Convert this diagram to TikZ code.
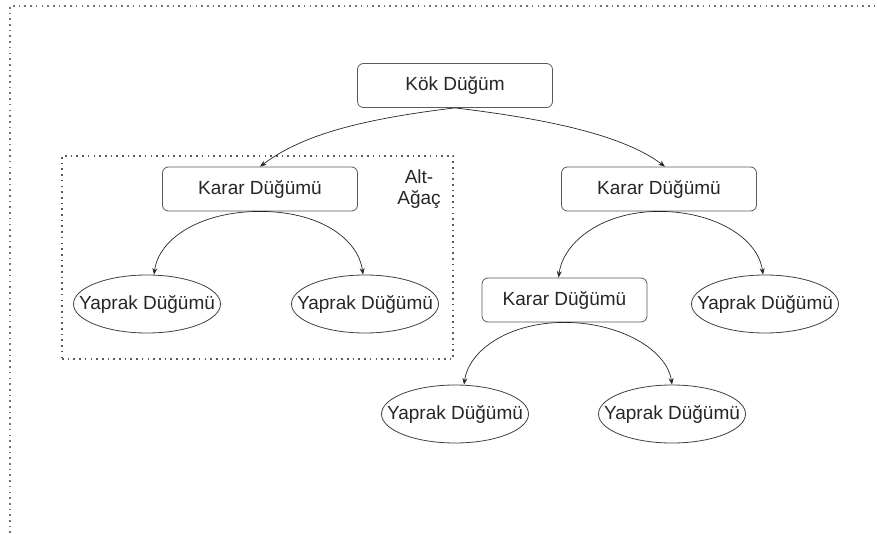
\documentclass[tikz,border=0pt]{standalone}
\usepackage{fontspec}
\setmainfont{Liberation Sans}
\usetikzlibrary{shapes.geometric,arrows.meta}

\tikzset{
  txt/.style={text=black!85, font=\fontsize{19}{21}\selectfont},
  decision/.style={txt, draw=black!65, line width=0.8pt, rounded corners=6pt,
    minimum width=195pt, minimum height=44pt, inner sep=0pt, fill=white},
  leafnode/.style={txt, ellipse, draw=black!75, line width=0.8pt,
    minimum width=147pt, minimum height=58pt, inner sep=0pt, fill=white},
  link/.style={draw=black!85, line width=0.7pt, -{Stealth[length=6.5pt,width=5pt]}},
  dotframe/.style={draw=black!55, line width=1.4pt, line cap=butt,
    dash pattern=on 1.6pt off 4.1pt}
}
% leaf label of zero width, so the ellipse keeps its own size
\newcommand\leaflabel[1]{\makebox[0pt]{#1}}

\begin{document}
\begin{tikzpicture}[x=1pt,y=1pt]
  \useasboundingbox (0,0) rectangle (877,533);

  % outer frame (only its top and left edges fall inside the page)
  \draw[dotframe] (10,0) -- (10,527) -- (877,527);

  % sub-tree frame
  \node[dotframe, draw=black!65, minimum width=391pt, minimum height=203pt,
        inner sep=0pt] (sub) at (257.5,275.5) {};
  \node[txt, align=center] (alt) at (419,344) {Alt-\\Ağaç};

  % nodes
  \node[decision] (root) at (455,447.5) {Kök Düğüm};
  \node[decision] (k1) at (260,344) {Karar Düğümü};
  \node[decision] (k2) at (659,344) {Karar Düğümü};
  \node[decision, minimum width=165pt] (k3) at (564.5,233) {Karar Düğümü};

  \node[leafnode] (y1) at (147,229) {\leaflabel{Yaprak Düğümü}};
  \node[leafnode] (y2) at (365,229) {\leaflabel{Yaprak Düğümü}};
  \node[leafnode] (y3) at (765,229) {\leaflabel{Yaprak Düğümü}};
  \node[leafnode] (y4) at (455,119) {\leaflabel{Yaprak Düğümü}};
  \node[leafnode] (y5) at (672,119) {\leaflabel{Yaprak Düğümü}};

  % curved connectors
  \draw[link] (root.south) .. controls +(-100,-12) and +(40,30) .. (k1.north);
  \draw[link] (root.south) .. controls +(100,-12) and +(-40,30) .. ([xshift=6pt]k2.north);

  \draw[link] (k1.south) .. controls +(-58,0) and +(5,37) .. ([xshift=7pt]y1.north);
  \draw[link] (k1.south) .. controls +(58,0) and +(-5,37) .. ([xshift=-2pt]y2.north);

  \draw[link] (k2.south) .. controls +(-55,0) and +(5,37) .. ([xshift=-6pt]k3.north);
  \draw[link] (k2.south) .. controls +(55,0) and +(-5,37) .. ([xshift=-2pt]y3.north);

  \draw[link] (k3.south) .. controls +(-55,0) and +(5,35) .. ([xshift=9pt]y4.north);
  \draw[link] (k3.south) .. controls +(55,0) and +(-5,35) .. (y5.north);
\end{tikzpicture}
\end{document}
